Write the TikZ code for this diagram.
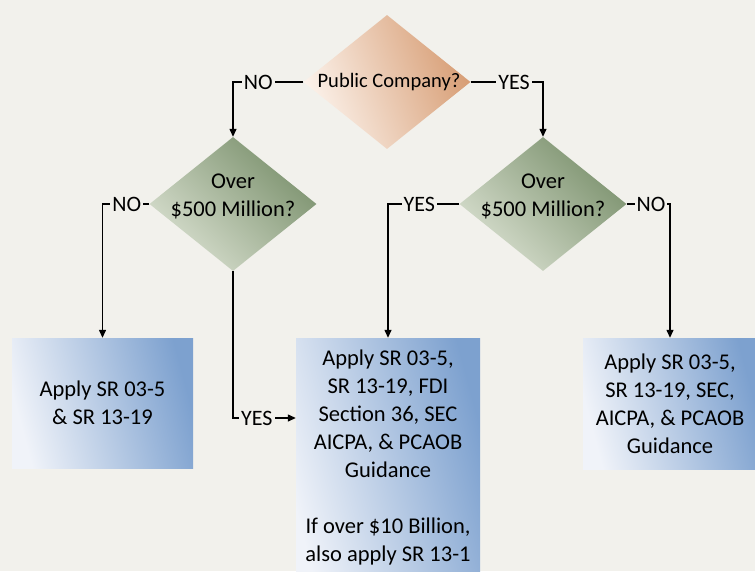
\documentclass[tikz,border=0pt]{standalone}
\usepackage{fontspec}
\setmainfont{Carlito}
\usetikzlibrary{shapes.geometric,arrows.meta}
\definecolor{bg}{HTML}{F2F1EC}
\definecolor{peachD}{HTML}{D79D74}
\definecolor{peachL}{HTML}{FCF3EC}
\definecolor{greenD}{HTML}{7B916D}
\definecolor{greenL}{HTML}{D8DFCF}
\definecolor{blueD}{HTML}{7DA1CF}
\definecolor{blueL}{HTML}{F0F3F9}
\tikzset{
  dia/.style={diamond, minimum width=167pt, minimum height=134pt, inner sep=0pt, draw=none},
  peach/.style={left color=peachL, right color=peachD, shading angle=110},
  green/.style={left color=greenL, right color=greenD, shading angle=135},
  box/.style={rectangle, draw=none, inner sep=0pt, align=center, left color=blueL, right color=blueD, shading angle=105,
    font=\fontsize{22.5}{28}\selectfont},
  txt/.style={align=center, inner sep=0pt, font=\fontsize{22.5}{28}\selectfont},
  lbl/.style={fill=bg, inner sep=2pt, font=\fontsize{22}{24}\selectfont},
  conn/.style={line width=1.3pt, -{Triangle[length=8pt,width=7pt]}},
}
\begin{document}
\begin{tikzpicture}[x=1pt,y=-1pt]
\clip (0,0) rectangle (755,571);
\fill[bg] (0,0) rectangle (755,571);

% diamonds
\node[dia, peach] (pc) at (387,82) {};
\node[txt, font=\fontsize{20.5}{24}\selectfont] (pct) at (389,82) {Public Company?};
\node[dia, green] (ld) at (233,204) {};
\node[txt] (ldt) at (233,196) {Over\\\$500 Million?};
\node[dia, green] (rd) at (543,204) {};
\node[txt] (rdt) at (543,196) {Over\\\$500 Million?};

% boxes
\node[box, minimum width=181pt, minimum height=130pt] (lb) at (102.5,403) {Apply SR 03-5\\\& SR 13-19};
\node[box, minimum width=184pt, minimum height=262pt] (mb) at (388,469) {};
\node[txt, anchor=north] (mbt) at (388,350) {Apply SR 03-5,\\SR 13-19, FDI\\Section 36, SEC\\AICPA, \& PCAOB\\Guidance\\[28pt]If over \$10 Billion,\\also apply SR 13-1};
\node[box, minimum width=174pt, minimum height=131pt] (rb) at (670,403.5) {Apply SR 03-5,\\SR 13-19, SEC,\\AICPA, \& PCAOB\\Guidance};

% connectors
\draw[conn] (pc.west) -| node[lbl, pos=0.32] {NO} (ld.north);
\draw[conn] (pc.east) -| node[lbl, pos=0.3] {YES} (rd.north);
\draw[conn] (ld.west) -| node[lbl, pos=0.24] {NO} (lb.north);
\draw[conn] (ld.south) |- node[lbl, pos=0.69] {YES} (mb.west |- 0,418);
\draw[conn] (rd.west) -| node[lbl, pos=0.28] {YES} (mb.north);
\draw[conn] (rd.east) -| node[lbl, pos=0.28] {NO} (rb.north);
\end{tikzpicture}
\end{document}
